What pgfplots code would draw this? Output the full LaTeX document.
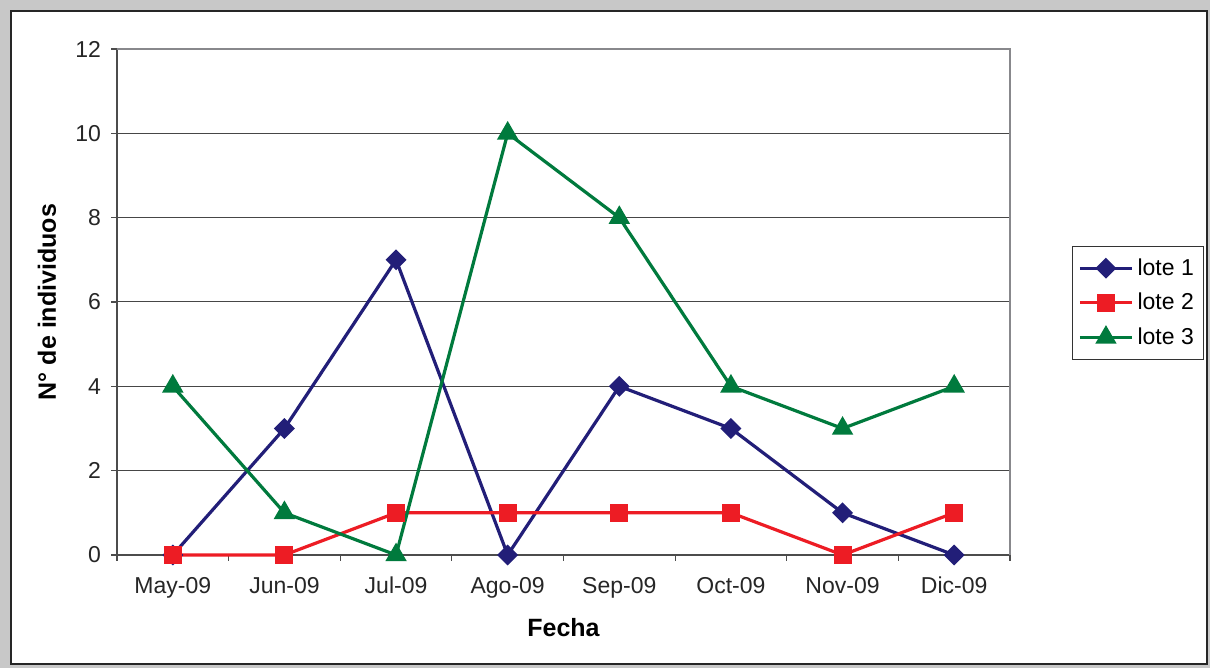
\documentclass[border=0pt]{standalone}
\usepackage{pgfplots}
\pgfplotsset{compat=1.18}
\usepackage{fontspec}
\setmainfont{Liberation Sans}

\definecolor{lote1}{RGB}{34,30,120}
\definecolor{lote2}{RGB}{237,28,36}
\definecolor{lote3}{RGB}{0,122,61}
\definecolor{framegray}{RGB}{200,200,200}
\definecolor{gridc}{RGB}{70,70,70}
\definecolor{boxc}{RGB}{136,136,140}

% individuals counted per month and plot
\pgfplotstableread{
x lote1 lote2 lote3
1 0 0 4
2 3 0 1
3 7 1 0
4 0 1 10
5 4 1 8
6 3 1 4
7 1 0 3
8 0 1 4
}\datos

\begin{document}
\begin{tikzpicture}
% outer frame
\fill[framegray] (0,0) rectangle (605pt,334pt);
\filldraw[fill=white, draw=black!85, line width=0.8pt] (5.5pt,2pt) rectangle (603.5pt,328.5pt);

\begin{axis}[
  at={(58.5pt,56.5pt)}, anchor=south west,
  scale only axis,
  width=446.5pt, height=253pt,
  font=\fontsize{11.5}{13}\selectfont,
  /pgf/number format/assume math mode=true,
  xmin=0.5, xmax=8.5,
  ymin=0, ymax=12,
  xtick={1,...,8},
  xticklabels={May-09,Jun-09,Jul-09,Ago-09,Sep-09,Oct-09,Nov-09,Dic-09},
  minor xtick={0.5,1.5,...,8.5},
  ytick={0,2,...,12},
  minor ytick={0,2,...,12},
  major tick length=0pt,
  minor tick length=3pt,
  tick align=outside,
  minor tick style={black!70, line width=0.6pt},
  axis x line*=bottom,
  axis y line*=left,
  axis line style={black!70, line width=0.8pt, -},
  ymajorgrids,
  major grid style={gridc, line width=0.5pt},
  xticklabel style={yshift=-7.5pt, text=black!85},
  yticklabel style={xshift=-4.5pt, text=black!85},
  xlabel={\bfseries Fecha},
  ylabel={\bfseries N° de individuos},
  xlabel style={at={(axis description cs:0.5,-0.1443)}, anchor=center, font=\fontsize{12.5}{14}\selectfont},
  ylabel style={at={(axis description cs:-0.0784,0.5)}, anchor=center, font=\fontsize{12.5}{14}\selectfont},
  legend style={at={(1.0694,0.6107)}, anchor=north west, draw=black!80,
    font=\fontsize{11.5}{13}\selectfont, row sep=3.5pt, inner xsep=3pt, inner ysep=4pt},
  legend cell align=left,
  legend image code/.code={
    \draw[#1, mark=none, line width=1.6pt] (0pt,0pt) -- (26pt,0pt);
    \draw[#1, only marks] plot coordinates {(13pt,0pt)};
  },
  clip=false,
]
\draw[boxc, line width=0.9pt] (rel axis cs:0,1) -- (rel axis cs:1,1) -- (rel axis cs:1,0);

\addplot[lote1, line width=1.6pt, mark=square*, mark size=2.9pt, mark options={rotate=45, solid}]
  table[x=x, y=lote1] {\datos};
\addlegendentry{lote 1}
\addplot[lote2, line width=1.6pt, mark=square*, mark size=3.7pt, mark options={solid}]
  table[x=x, y=lote2] {\datos};
\addlegendentry{lote 2}
\addplot[lote3, line width=1.6pt, mark=triangle*, mark size=4.6pt, mark options={solid}]
  table[x=x, y=lote3] {\datos};
\addlegendentry{lote 3}
\end{axis}
\end{tikzpicture}
\end{document}
